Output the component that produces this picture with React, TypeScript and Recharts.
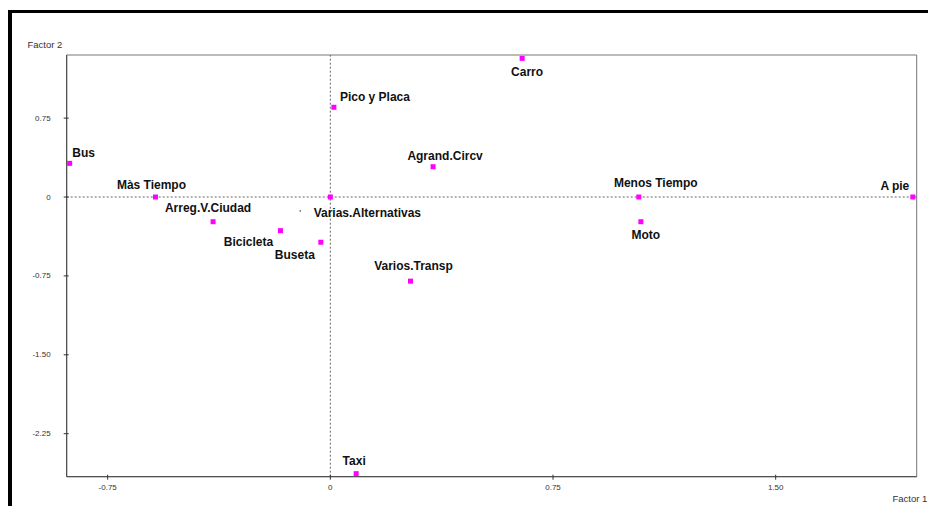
import { ReferenceArea, ReferenceLine, Scatter, ScatterChart, XAxis, YAxis } from "recharts";

const modalidades = [
  "Bus", "Màs Tiempo", "Arreg.V.Ciudad", "Bicicleta", "Buseta", "Varias.Alternativas", "Pico y Placa",
  "Agrand.Circv", "Varios.Transp", "Carro", "Menos Tiempo", "Moto", "A pie", "Taxi",
];
const factor1 = [-0.878, -0.589, -0.395, -0.168, -0.032, 0, 0.012, 0.346, 0.27, 0.646, 1.039, 1.046, 1.962, 0.087];
const factor2 = [0.32, 0, -0.235, -0.32, -0.43, 0, 0.853, 0.288, -0.8, 1.318, 0, -0.235, 0, -2.63];

// punto suelto sin etiqueta
const extraF1 = [-0.102];
const extraF2 = [-0.13];

const ticksF1 = [-0.75, 0, 0.75, 1.5];
const ticksF2 = [0.75, 0, -0.75, -1.5, -2.25];
const dominioF1: [number, number] = [-0.888, 1.975];
const dominioF2: [number, number] = [-2.659, 1.35];

// desplazamiento de cada etiqueta respecto a su punto (px)
const etiquetas: Record<string, [number, number]> = {
  "Bus": [14, -10],
  "Màs Tiempo": [-4, -12],
  "Arreg.V.Ciudad": [-5, -14],
  "Bicicleta": [-32, 11],
  "Buseta": [-26, 13],
  "Varias.Alternativas": [37, 16],
  "Pico y Placa": [41, -10],
  "Agrand.Circv": [12, -11],
  "Varios.Transp": [3, -15],
  "Carro": [5, 14],
  "Menos Tiempo": [17, -14],
  "Moto": [5, 13],
  "A pie": [-18, -11],
  "Taxi": [-2, -13],
};

const puntos = modalidades.map((nombre, i) => ({ nombre, f1: factor1[i], f2: factor2[i] }));
const extra = extraF1.map((f1, i) => ({ f1, f2: extraF2[i] }));

const fmt = (v: number) => (v === 0 ? "0" : v.toFixed(2));
const tickFont = { fontFamily: "Liberation Sans, Arial, sans-serif", fontSize: 8, fill: "#333" };

function TickY(props: any) {
  const { x, y, payload } = props;
  return (
    <g>
      <line x1={x - 3} x2={x + 2} y1={y} y2={y} stroke="#333" />
      <text x={x - 16} y={y} textAnchor="end" dominantBaseline="central" {...tickFont}>{fmt(payload.value)}</text>
    </g>
  );
}

function TickX(props: any) {
  const { x, y, payload } = props;
  return (
    <g>
      <line x1={x} x2={x} y1={y - 2} y2={y + 3} stroke="#333" />
      <text x={x} y={y + 11} textAnchor="middle" dominantBaseline="central" {...tickFont}>{fmt(payload.value)}</text>
    </g>
  );
}

function Marca(props: any) {
  const { cx, cy, payload } = props;
  const [dx, dy] = etiquetas[payload.nombre] ?? [0, -12];
  return (
    <g>
      <rect x={cx - 2.5} y={cy - 2.5} width={5} height={5} fill="#ff00ff" />
      <text
        x={cx + dx}
        y={cy + dy}
        textAnchor="middle"
        dominantBaseline="central"
        fontFamily="Liberation Sans, Arial, sans-serif"
        fontWeight="bold"
        fontSize={12}
        fill="#111"
      >
        {payload.nombre}
      </text>
    </g>
  );
}

function Punto(props: any) {
  const { cx, cy } = props;
  return <rect x={cx - 0.5} y={cy - 0.5} width={1.5} height={1.5} fill="#666" />;
}

const titulo = { position: "absolute" as const, fontFamily: "Liberation Sans, Arial, sans-serif", fontSize: 9.5, color: "#333", lineHeight: "12px" };

export default function App() {
  return (
    <div style={{ position: "relative", width: 928, height: 498 }}>
      <div style={{ position: "absolute", left: 0, top: 2, width: 924, height: 493, borderTop: "3px solid #000", borderLeft: "4px solid #000" }} />
      <div style={{ ...titulo, left: 19.5, top: 31 }}>Factor 2</div>
      <div style={{ ...titulo, left: 884.5, top: 484.5 }}>Factor 1</div>
      <ScatterChart width={928} height={498} margin={{ top: 47, right: 19.3, bottom: 9.3, left: 8.7 }}>
        <XAxis
          type="number"
          dataKey="f1"
          domain={dominioF1}
          ticks={ticksF1}
          allowDataOverflow
          height={20}
          tickSize={0}
          tickMargin={0}
          tickLine={false}
          tick={TickX}
          axisLine={{ stroke: "#444" }}
        />
        <YAxis
          type="number"
          dataKey="f2"
          domain={dominioF2}
          ticks={ticksF2}
          allowDataOverflow
          width={50}
          tickSize={0}
          tickMargin={0}
          tickLine={false}
          tick={TickY}
          axisLine={{ stroke: "#444" }}
        />
        <ReferenceArea x1={dominioF1[0]} x2={dominioF1[1]} y1={dominioF2[0]} y2={dominioF2[1]} fill="none" stroke="#777" ifOverflow="visible" />
        <ReferenceLine x={0} stroke="#666" strokeDasharray="2 2" />
        <ReferenceLine y={0} stroke="#666" strokeDasharray="2 2" />
        <Scatter data={extra} shape={Punto} isAnimationActive={false} />
        <Scatter data={puntos} shape={Marca} isAnimationActive={false} />
      </ScatterChart>
    </div>
  );
}
